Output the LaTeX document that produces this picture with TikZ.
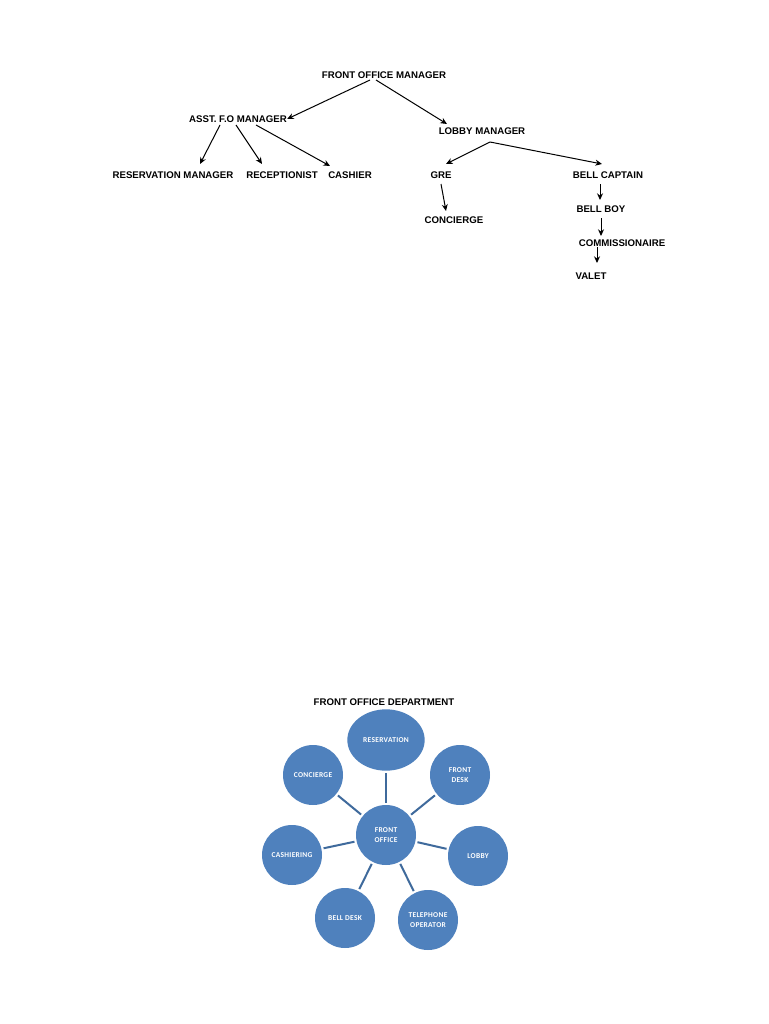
\documentclass[tikz,border=0pt]{standalone}
\usepackage{fontspec}
\setmainfont{Liberation Sans}
\newfontfamily\circfont[LetterSpace=4]{Carlito}
\usetikzlibrary{arrows.meta,shapes.geometric}
\definecolor{cblue}{HTML}{4F81BD}
\definecolor{cline}{HTML}{3F6A9C}
\begin{document}
\begin{tikzpicture}[x=0.75pt,y=-0.75pt,
  lbl/.style={font=\fontsize{7.25}{8.5}\selectfont\bfseries, inner sep=0pt, anchor=center},
  arr/.style={-{Stealth[length=5pt,width=4.5pt]}, line width=0.75pt},
  circ/.style={circle, fill=cblue, draw=none, minimum size=45pt, inner sep=0pt, text=white, align=center, font=\circfont\bfseries\fontsize{5.6}{7}\selectfont},
  link/.style={draw=cline, line width=1.5pt, shorten >=1.5pt, shorten <=1.5pt}]
\useasboundingbox (0,0) rectangle (768,1024);
\fill[white] (0,0) rectangle (768,1024);
% org chart
\node[lbl] (fom) at (384,75) {FRONT OFFICE MANAGER};
\node[lbl] (asst) at (238,119) {ASST. F.O MANAGER};
\node[lbl] (lobm) at (482,131) {LOBBY MANAGER};
\node[lbl] (resm) at (173,175) {RESERVATION MANAGER};
\node[lbl] (rec) at (282,175) {RECEPTIONIST};
\node[lbl] (cash) at (350,175) {CASHIER};
\node[lbl] (gre) at (441,175) {GRE};
\node[lbl] (bcap) at (608,175) {BELL CAPTAIN};
\node[lbl] (conc) at (454,220) {CONCIERGE};
\node[lbl] (bboy) at (601,209) {BELL BOY};
\node[lbl] (comm) at (622,243) {COMMISSIONAIRE};
\node[lbl] (valet) at (591,276) {VALET};
\coordinate (fomA) at (370,80);
\coordinate (fomB) at (376,80);
\draw[arr] (fomA) -- (asst.east);
\draw[arr] (fomB) -- (447,124) coordinate (lobT);
\coordinate (asA) at (220,125);
\coordinate (asB) at (236,125);
\coordinate (asC) at (256,125);
\draw[arr] (asA) -- (200,164);
\draw[arr] (asB) -- (262,164);
\draw[arr] (asC) -- (330,166);
\coordinate (lmA) at (490,142);
\draw[arr] (lmA) -- (446,164);
\draw[arr] (lmA) -- (602,164);
\draw[arr] (441,184) -- (446,211);
\draw[arr] (600,184) -- (600,200);
\draw[arr] (601,218) -- (601,236);
\draw[arr] (597,247) -- (597,263);
% front office department
\node[lbl] (title) at (384,702) {FRONT OFFICE DEPARTMENT};
\node[circ] (fo) at (386,835) {FRONT\\OFFICE};
\node[circ, ellipse, minimum width=58pt, minimum height=46pt] (res) at (386,740) {RESERVATION};
\node[circ] (fd) at (460,775) {FRONT\\DESK};
\node[circ] (lob) at (478,856) {LOBBY};
\node[circ] (tel) at (428,920) {TELEPHONE\\OPERATOR};
\node[circ] (bd) at (345,918) {BELL DESK};
\node[circ] (cs) at (292,855) {CASHIERING};
\node[circ] (cc) at (313,775) {CONCIERGE};
\foreach \n in {res,fd,lob,tel,bd,cs,cc}{\path[link] (fo) -- (\n);}
\end{tikzpicture}
\end{document}
